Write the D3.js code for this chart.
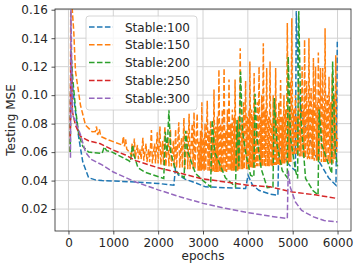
<!DOCTYPE html>
<html>
<head>
<meta charset="utf-8">
<script src="https://cdn.jsdelivr.net/npm/d3@7"></script>
<style type="text/css">
	body{
		margin: 0; background: #fff;
	}
	text{
		font-family: "DejaVu Sans", sans-serif;
		fill: #262626;
	}
</style>
</head>
<body>
<div id="chart"></div>
<script type="text/javascript">
	// legend names + tab10 colours
	const names = ['Stable:100','Stable:150','Stable:200','Stable:250','Stable:300'];
	const colors = ['#1f77b4','#ff7f0e','#2ca02c','#d62728','#9467bd'];
	const xTicks = [0,1000,2000,3000,4000,5000,6000];
	const yTicks = [0.02,0.04,0.06,0.08,0.10,0.12,0.14,0.16];

	// [epoch, mse]
	const stable100 = [[40,0.060],[55,0.125],[90,0.107],[150,0.090],[230,0.070],[320,0.053],[450,0.042],[600,0.0405],[750,0.040],
		[1500,0.039],[2000,0.038],[2350,0.0367],[2385,0.0485],[2450,0.044],[2600,0.041],[2870,0.038],[3055,0.0356],[3950,0.0344],
		[4005,0.0438],[4100,0.037],[4245,0.0332],[4500,0.0305],[4670,0.0297],[4690,0.066],[4800,0.056],[4950,0.050],[5060,0.047],
		[5080,0.159],[5137,0.099],[5250,0.080],[5360,0.071],[5500,0.058],[5658,0.0497],[5800,0.042],[5965,0.0367],[5995,0.139]];

	const stable150 = [[40,0.060],[52,0.175],[118,0.145],[156,0.117],[268,0.093],[380,0.079],[528,0.0743],[600,0.0745],[625,0.078],
		[650,0.072],[690,0.076],[720,0.071],[900,0.0685],[1200,0.065],[1225,0.071],[1250,0.064],[1275,0.069],[1300,0.062],[1360,0.060],
		[1400,0.058],[1420,0.066],[1440,0.057],[1470,0.0696],[1490,0.056],[1540,0.065],[1560,0.055],[1600,0.062],[1620,0.055],
		[1660,0.070],[1680,0.054],[1730,0.066],[1750,0.053],[1790,0.062],[1810,0.053],[1850,0.0755],[1870,0.052],[1920,0.066],
		[1940,0.052],[1980,0.074],[2000,0.052],[2040,0.078],[2060,0.051],[2100,0.068],[2120,0.051],[2150,0.078],[2170,0.050],
		[2220,0.070],[2240,0.050],[2275,0.076],[2295,0.050],[2340,0.068],[2360,0.049],[2390,0.076],[2410,0.049],[2460,0.081],
		[2480,0.049],[2520,0.070],[2540,0.049],[2575,0.084],[2595,0.048],[2640,0.075],[2660,0.048],[2690,0.087],[2710,0.048],
		[2760,0.080],[2780,0.048],[2800,0.088],[2820,0.048],[2870,0.087],[2890,0.047],
		[2910,0.068],[2925,0.047],[2945,0.075],[2960,0.047],[2975,0.095],[2990,0.047],[3010,0.070],[3025,0.047],[3045,0.080],
		[3060,0.047],[3095,0.096],[3112,0.047],[3135,0.075],[3150,0.047],[3170,0.082],[3190,0.046],[3215,0.070],[3228,0.046],
		[3245,0.104],[3265,0.046],[3285,0.078],[3300,0.046],[3320,0.085],[3335,0.046],[3355,0.118],[3375,0.046],[3395,0.080],
		[3410,0.046],[3430,0.090],[3448,0.046],[3470,0.119],[3490,0.046],[3510,0.075],[3525,0.046],[3545,0.090],[3560,0.047],
		[3580,0.111],[3600,0.047],[3620,0.080],[3635,0.047],[3655,0.090],[3670,0.047],[3690,0.085],[3700,0.047],[3715,0.111],
		[3735,0.047],[3760,0.078],[3775,0.047],[3790,0.085],[3805,0.048],[3830,0.133],[3850,0.048],[3870,0.080],[3885,0.048],
		[3905,0.095],[3920,0.048],[3950,0.110],[3970,0.048],[3990,0.085],[4005,0.048],[4025,0.090],[4035,0.049],[4045,0.1236],
		[4065,0.049],[4085,0.090],[4100,0.049],[4115,0.085],[4125,0.049],[4140,0.1155],[4160,0.049],[4180,0.080],[4192,0.050],
		[4210,0.095],[4225,0.050],[4250,0.120],[4270,0.050],[4285,0.085],[4295,0.050],[4310,0.100],[4325,0.050],[4345,0.1365],
		[4365,0.050],[4385,0.090],[4400,0.050],[4420,0.119],[4440,0.050],[4460,0.085],[4475,0.050],[4495,0.1236],[4515,0.050],
		[4535,0.080],[4548,0.050],[4565,0.100],[4580,0.051],[4600,0.090],[4608,0.051],[4620,0.119],[4640,0.051],[4660,0.085],
		[4672,0.051],[4690,0.095],[4705,0.051],[4730,0.1107],[4750,0.051],[4770,0.085],[4785,0.052],[4805,0.100],[4820,0.052],
		[4845,0.090],[4860,0.052],[4880,0.1506],[4900,0.052],[4920,0.090],[4930,0.053],[4945,0.110],[4960,0.053],[4980,0.154],
		[5000,0.058],[5020,0.090],[5035,0.058],[5060,0.100],[5080,0.058],[5100,0.085],[5112,0.058],[5130,0.110],[5150,0.057],
		[5170,0.090],[5185,0.057],[5210,0.120],[5230,0.056],[5245,0.090],[5252,0.056],[5265,0.139],[5285,0.056],[5310,0.110],
		[5330,0.055],[5345,0.090],[5350,0.055],[5362,0.140],[5380,0.055],[5410,0.105],[5430,0.055],[5445,0.090],[5450,0.055],
		[5462,0.126],[5480,0.054],[5510,0.120],[5530,0.054],[5550,0.095],[5558,0.054],[5572,0.130],[5590,0.054],[5620,0.119],
		[5640,0.053],[5670,0.119],[5690,0.053],[5705,0.090],[5710,0.053],[5722,0.147],[5740,0.053],[5770,0.100],[5790,0.053],
		[5810,0.113],[5830,0.052],[5850,0.095],[5862,0.052],[5880,0.115],[5900,0.052],[5920,0.100],[5940,0.055],[5960,0.128],
		[5980,0.060],[6000,0.070]];

	const stable200 = [[40,0.060],[55,0.132],[100,0.110],[160,0.090],[230,0.072],[320,0.064],[450,0.060],[750,0.059],[800,0.0637],
		[850,0.061],[975,0.060],[1345,0.054],[1380,0.053],[1430,0.065],[1460,0.058],[1550,0.049],[1700,0.046],[2125,0.0415],
		[2160,0.0743],[2200,0.060],[2240,0.090],[2280,0.060],[2390,0.0466],[2580,0.042],[2610,0.075],[2660,0.060],[2833,0.045],
		[3000,0.040],[3170,0.0356],[3205,0.0825],[3260,0.060],[3353,0.053],[3500,0.042],[3725,0.0356],[3760,0.0825],[3800,0.050],
		[3837,0.1166],[3880,0.075],[3950,0.060],[4060,0.0438],[4134,0.0426],[4160,0.101],[4200,0.070],[4300,0.048],[4432,0.035],
		[4560,0.0356],[4590,0.098],[4650,0.065],[4767,0.047],[4880,0.042],[4900,0.127],[4950,0.070],[5063,0.047],[5110,0.0415],
		[5135,0.159],[5180,0.085],[5287,0.0415],[5450,0.033],[5565,0.030],[5590,0.090],[5650,0.065],[5870,0.045],[5890,0.1236],
		[5950,0.060],[6000,0.050]];

	const stable250 = [[40,0.070],[55,0.130],[90,0.088],[156,0.079],[268,0.071],[446,0.068],[700,0.066],[1000,0.0614],[1271,0.058],
		[1500,0.054],[2000,0.049],[2500,0.0452],[2944,0.0415],[3500,0.039],[3985,0.0368],[4500,0.0356],[5000,0.032],[5500,0.030],
		[6000,0.0274]];

	const stable300 = [[45,0.056],[55,0.160],[90,0.086],[150,0.082],[270,0.072],[380,0.060],[500,0.055],[750,0.051],[1000,0.046],
		[1500,0.039],[2000,0.0335],[2500,0.0285],[3000,0.024],[3500,0.0205],[4000,0.0175],[4500,0.015],[4880,0.0133],[4900,0.047],
		[4950,0.035],[5060,0.025],[5200,0.019],[5465,0.0145],[5700,0.012],[6000,0.011]];

	const series = [stable100, stable150, stable200, stable250, stable300];

	const W = 359, H = 269;
	const margin = {top: 9, right: 8, bottom: 38, left: 55};
	const width = W - margin.left - margin.right,
	      height = H - margin.top - margin.bottom;

	let svg = d3.select('#chart').append('svg')
		.attr('width', W).attr('height', H);
	let g = svg.append('g').attr('transform', 'translate(' + margin.left + ',' + margin.top + ')');

	let x = d3.scaleLinear().domain([-300, 6300]).range([0, width]);
	let y = d3.scaleLinear().domain([0.0046, 0.1605]).range([height, 0]);

	// grid
	g.append('g').selectAll('line').data(xTicks).enter().append('line')
		.attr('x1', d => x(d)).attr('x2', d => x(d))
		.attr('y1', 0).attr('y2', height)
		.attr('stroke', '#d2d2d2').attr('stroke-width', 1);
	g.append('g').selectAll('line').data(yTicks).enter().append('line')
		.attr('y1', d => y(d)).attr('y2', d => y(d))
		.attr('x1', 0).attr('x2', width)
		.attr('stroke', '#d2d2d2').attr('stroke-width', 1);

	// axes
	let xAxis = g.append('g')
		.attr('transform', 'translate(0,' + height + ')')
		.call(d3.axisBottom(x).tickValues(xTicks).tickFormat(d3.format('d')).tickSize(3.5).tickPadding(3.5));
	let yAxis = g.append('g')
		.call(d3.axisLeft(y).tickValues(yTicks).tickFormat(d3.format('.2f')).tickSize(3.5).tickPadding(3.5));
	[xAxis, yAxis].forEach(a => {
		a.select('.domain').remove();
		a.selectAll('text').attr('font-size', 12).attr('font-family', '"DejaVu Sans", sans-serif').attr('fill', '#262626');
		a.selectAll('line').attr('stroke', '#262626').attr('stroke-width', 0.8);
	});

	// lines
	g.append('clipPath').attr('id', 'clip').append('rect')
		.attr('width', width).attr('height', height);
	let line = d3.line().x(d => x(d[0])).y(d => y(d[1]));
	let lines = g.append('g').attr('clip-path', 'url(#clip)');
	series.forEach((s, i) => {
		lines.append('path')
			.datum(s)
			.attr('fill', 'none')
			.attr('stroke', colors[i])
			.attr('stroke-width', 1.5)
			.attr('stroke-dasharray', '5.55,2.4')
			.attr('d', line);
	});

	// frame
	g.append('rect')
		.attr('width', width).attr('height', height)
		.attr('fill', 'none').attr('stroke', '#262626').attr('stroke-width', 0.8);

	// labels
	svg.append('text')
		.attr('x', margin.left + width / 2).attr('y', 260)
		.attr('text-anchor', 'middle').attr('font-size', 12)
		.text('epochs');
	svg.append('text')
		.attr('transform', 'translate(15,' + (margin.top + height / 2) + ') rotate(-90)')
		.attr('text-anchor', 'middle').attr('font-size', 12)
		.text('Testing MSE');

	// legend
	let legend = svg.append('g').attr('transform', 'translate(86,16)');
	legend.append('rect')
		.attr('width', 111).attr('height', 94).attr('rx', 3)
		.attr('fill', 'white').attr('fill-opacity', 0.8)
		.attr('stroke', '#cccccc').attr('stroke-width', 0.8);
	names.forEach((n, i) => {
		let row = legend.append('g').attr('transform', 'translate(0,' + (11 + i * 17.8) + ')');
		row.append('line')
			.attr('x1', 3).attr('x2', 27)
			.attr('stroke', colors[i]).attr('stroke-width', 1.5)
			.attr('stroke-dasharray', '5.55,2.4');
		row.append('text')
			.attr('x', 39).attr('y', 4.5).attr('font-size', 12)
			.text(n);
	});
</script>
</body>
</html>
